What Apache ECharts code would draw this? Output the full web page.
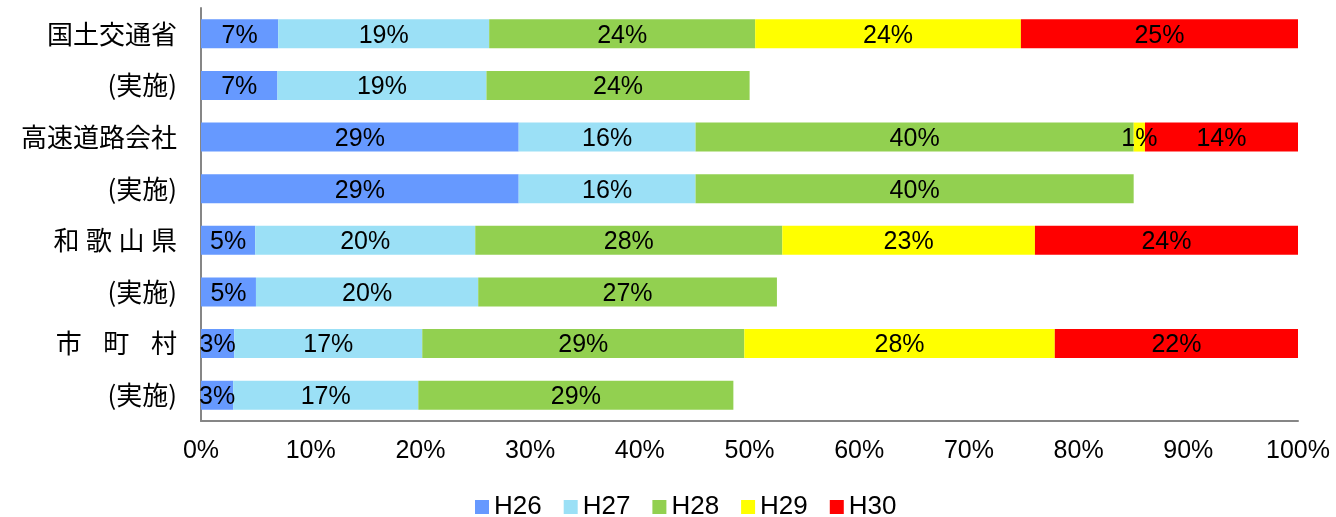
<!DOCTYPE html>
<html>
<head>
<meta charset="utf-8">
<script src="https://cdn.jsdelivr.net/npm/echarts@6/dist/echarts.min.js"></script>
<style>
html,body{margin:0;padding:0;background:#fff;}
#chart{width:1336px;height:517px;}
</style>
</head>
<body>
<div id="chart"></div>
<script>
const categories = ['国土交通省', '(実施)', '高速道路会社', '(実施)', '和\u2005歌\u2005山\u2005県', '(実施)', '市\u2002\u2004町\u2002\u2004村', '(実施)'];
const seriesNames = ['H26', 'H27', 'H28', 'H29', 'H30'];
const H26 = [7.04, 6.97, 28.96, 28.96, 4.94, 5.01, 3.03, 2.93];
const H27 = [19.23, 19.05, 16.12, 16.12, 20.06, 20.26, 17.14, 16.88];
const H28 = [24.25, 23.99, 39.94, 39.94, 27.99, 27.23, 29.36, 28.72];
const H29 = [24.22, null, 1.03, null, 23.03, null, 28.30, null];
const H30 = [25.26, null, 13.95, null, 23.98, null, 22.17, null];
const xTicks = [0, 10, 20, 30, 40, 50, 60, 70, 80, 90, 100];
const colors = ['#6699FF', '#9BE0F6', '#92D050', '#FFFF00', '#FF0000'];

const allData = [H26, H27, H28, H29, H30];

const chart = echarts.init(document.getElementById('chart'));
chart.setOption({
  animation: false,
  grid: { left: 201, right: 38, top: 8, bottom: 96, containLabel: false },
  legend: {
    left: 475,
    top: 494,
    padding: 0,
    itemWidth: 14,
    itemHeight: 14,
    itemGap: 22,
    icon: 'rect',
    data: seriesNames,
    textStyle: { fontFamily: 'Liberation Sans, Arial, sans-serif', fontSize: 26, color: '#000' }
  },
  xAxis: {
    type: 'value',
    min: xTicks[0],
    max: xTicks[xTicks.length - 1],
    interval: 10,
    axisLine: { show: true, lineStyle: { color: '#868686', width: 2 } },
    axisTick: { show: false },
    splitLine: { show: false },
    axisLabel: {
      formatter: v => v + '%',
      margin: 18,
      fontFamily: 'Liberation Sans, Arial, sans-serif',
      fontSize: 25,
      color: '#000'
    }
  },
  yAxis: {
    type: 'category',
    inverse: true,
    data: categories,
    axisLine: { show: true, lineStyle: { color: '#868686', width: 2 } },
    axisTick: { show: false },
    axisLabel: {
      margin: 24,
      fontFamily: 'Noto Sans CJK JP, sans-serif',
      fontSize: 26,
      color: '#000'
    }
  },
  series: seriesNames.map((name, i) => ({
    name: name,
    type: 'bar',
    stack: 'total',
    barWidth: 29,
    data: allData[i],
    itemStyle: { color: colors[i] },
    label: {
      show: true,
      position: 'inside',
      offset: [0, 2],
      formatter: p => (p.value == null ? '' : Math.round(p.value) + '%'),
      fontFamily: 'Liberation Sans, Arial, sans-serif',
      fontSize: 25,
      color: '#000'
    }
  }))
});
</script>
</body>
</html>
